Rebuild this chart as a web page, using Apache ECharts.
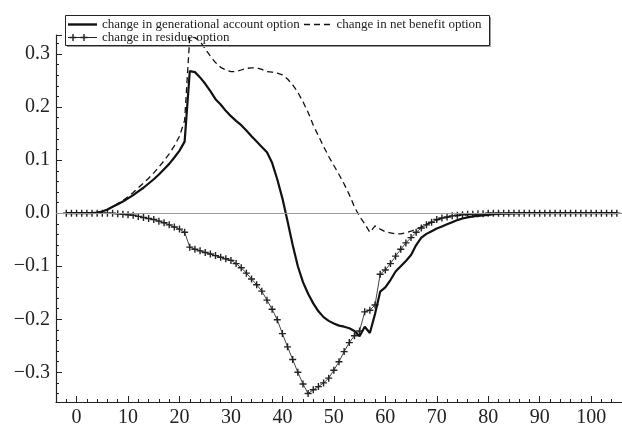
<!DOCTYPE html>
<html>
<head>
<meta charset="utf-8">
<script src="https://cdn.jsdelivr.net/npm/echarts@6/dist/echarts.min.js"></script>
<style>
html,body{margin:0;padding:0;background:#fff;}
#chart{width:622px;height:428px;}
</style>
</head>
<body>
<div id="chart"></div>
<script>
// x values (generation index), -2 .. 105
var xValues = [
  -2,-1,0,1,2,3,4,5,6,7,
  8,9,10,11,12,13,14,15,16,17,
  18,19,20,21,22,23,24,25,26,27,
  28,29,30,31,32,33,34,35,36,37,
  38,39,40,41,42,43,44,45,46,47,
  48,49,50,51,52,53,54,55,56,57,
  58,59,60,61,62,63,64,65,66,67,
  68,69,70,71,72,73,74,75,76,77,
  78,79,80,81,82,83,84,85,86,87,
  88,89,90,91,92,93,94,95,96,97,
  98,99,100,101,102,103,104,105
];

var seriesNames = [
  'change in generational account option',
  'change in net benefit option',
  'change in residue option'
];

var genAccount = [
  0,0,0,0,0,0.0003,0.001,0.003,0.007,0.012,
  0.017,0.022,0.028,0.034,0.041,0.048,0.056,0.064,0.073,0.083,
  0.093,0.105,0.118,0.135,0.268,0.266,0.256,0.244,0.230,0.215,
  0.205,0.193,0.183,0.174,0.166,0.156,0.145,0.135,0.125,0.115,
  0.095,0.064,0.028,-0.015,-0.060,-0.100,-0.130,-0.152,-0.170,-0.185,
  -0.196,-0.203,-0.208,-0.212,-0.214,-0.217,-0.222,-0.232,-0.214,-0.226,
  -0.190,-0.148,-0.140,-0.126,-0.110,-0.100,-0.090,-0.079,-0.060,-0.046,
  -0.039,-0.034,-0.029,-0.025,-0.021,-0.017,-0.013,-0.010,-0.008,-0.006,
  -0.005,-0.004,-0.003,-0.002,-0.0015,-0.001,-0.0008,-0.0005,-0.0003,0,
  0,0,0,0,0,0,0,0,0,0,
  0,0,0,0,0,0,0,0
];

var netBenefit = [
  0,0,0,0,0,0.0003,0.001,0.003,0.007,0.012,
  0.018,0.024,0.031,0.039,0.048,0.057,0.066,0.076,0.087,0.099,
  0.112,0.127,0.145,0.175,0.333,0.331,0.324,0.310,0.296,0.284,
  0.275,0.270,0.267,0.267,0.270,0.273,0.274,0.274,0.271,0.267,
  0.266,0.264,0.261,0.253,0.242,0.228,0.210,0.190,0.166,0.146,
  0.126,0.107,0.090,0.073,0.055,0.035,0.012,-0.006,-0.020,-0.036,
  -0.024,-0.030,-0.035,-0.037,-0.039,-0.039,-0.037,-0.034,-0.030,-0.026,
  -0.021,-0.017,-0.013,-0.010,-0.008,-0.006,-0.005,-0.004,-0.003,-0.002,
  -0.0015,-0.001,-0.0006,-0.0003,0,0,0,0,0,0,
  0,0,0,0,0,0,0,0,0,0,
  0,0,0,0,0,0,0,0
];

var residue = [
  0,0,0,0,0,0,0,0,0,0,
  -0.001,-0.002,-0.003,-0.004,-0.006,-0.008,-0.010,-0.012,-0.015,-0.018,
  -0.022,-0.026,-0.030,-0.036,-0.064,-0.068,-0.071,-0.074,-0.077,-0.080,
  -0.083,-0.086,-0.089,-0.095,-0.103,-0.113,-0.124,-0.135,-0.147,-0.164,
  -0.181,-0.201,-0.227,-0.252,-0.276,-0.300,-0.322,-0.340,-0.333,-0.327,
  -0.320,-0.311,-0.296,-0.280,-0.261,-0.244,-0.231,-0.222,-0.186,-0.183,
  -0.173,-0.115,-0.107,-0.095,-0.081,-0.068,-0.056,-0.046,-0.036,-0.028,
  -0.022,-0.017,-0.012,-0.009,-0.007,-0.005,-0.004,-0.003,-0.002,-0.002,
  -0.001,-0.001,0,0,0,0,0,0,0,0,
  0,0,0,0,0,0,0,0,0,0,
  0,0,0,0,0,0,0,0
];

var xTickLabels = [0,10,20,30,40,50,60,70,80,90,100];
var yTickLabels = [-0.3,-0.2,-0.1,0.0,0.1,0.2,0.3];

function pairs(vals){ return xValues.map(function(x,i){ return [x, vals[i]]; }); }

var X_MIN = -4, X_MAX = 106, Y_MIN = -0.356, Y_MAX = 0.336;
var xMinor = []; for (var t = -2; t <= 106; t += 2) { xMinor.push(t); }
var yMinor = []; for (var k = -17; k <= 16; k++) { yMinor.push(+(k * 0.02).toFixed(2)); }

var FONT = 'Liberation Serif';
var AX = '#222';
var plusPath = 'path://M4,0H6V4H10V6H6V10H4V6H0V4H4Z';
var legendSolidIcon = 'path://M0,0H29V2.4H0Z';
var legendDashIcon = 'path://M0,0H6V1.4H0Z M10,0H16V1.4H10Z M20,0H26V1.4H20Z';
var legendPlusIcon = 'path://M0,3.1H29V3.9H0Z M4.3,0H5.7V2.8H8.5V4.2H5.7V7H4.3V4.2H1.5V2.8H4.3Z M15.3,0H16.7V2.8H19.5V4.2H16.7V7H15.3V4.2H12.5V2.8H15.3Z';
var legendText = {fontFamily: FONT, fontSize: 13, color: AX};

var chart = echarts.init(document.getElementById('chart'), null, {renderer: 'canvas'});
chart.setOption({
  animation: false,
  backgroundColor: '#fff',
  grid: {left: 56, right: 0, top: 35, bottom: 24, containLabel: false},
  xAxis: [{
    type: 'value', min: X_MIN, max: X_MAX, position: 'bottom',
    axisLine: {show: true, onZero: false, lineStyle: {color: AX, width: 1.2}},
    axisTick: {show: true, inside: true, length: 6, customValues: xTickLabels, lineStyle: {color: AX, width: 1}},
    axisLabel: {show: true, customValues: xTickLabels, margin: 6, color: AX, fontFamily: FONT, fontSize: 20},
    splitLine: {show: false}
  }, {
    type: 'value', min: X_MIN, max: X_MAX, position: 'bottom', offset: 0,
    axisLine: {show: false, onZero: false},
    axisTick: {show: true, inside: true, length: 3, customValues: xMinor, lineStyle: {color: AX, width: 1}},
    axisLabel: {show: false},
    splitLine: {show: false}
  }],
  yAxis: [{
    type: 'value', min: Y_MIN, max: Y_MAX, position: 'left',
    axisLine: {show: true, onZero: false, lineStyle: {color: AX, width: 1.2}},
    axisTick: {show: true, inside: true, length: 6, customValues: yTickLabels.concat([Y_MAX]), lineStyle: {color: AX, width: 1}},
    axisLabel: {show: true, customValues: yTickLabels, margin: 6, color: AX, fontFamily: FONT, fontSize: 20,
      formatter: function(v){ return v.toFixed(1).replace('-', '\u2212'); }},
    splitLine: {show: false}
  }, {
    type: 'value', min: Y_MIN, max: Y_MAX, position: 'left', offset: 0,
    axisLine: {show: false, onZero: false},
    axisTick: {show: true, inside: true, length: 3, customValues: yMinor, lineStyle: {color: AX, width: 1}},
    axisLabel: {show: false},
    splitLine: {show: false}
  }],
  legend: [{
    left: 68, top: 18, padding: 0, itemWidth: 29, itemHeight: 2.4, selectedMode: false,
    data: [{name: seriesNames[0], icon: legendSolidIcon}], textStyle: legendText
  }, {
    left: 304, top: 18, padding: 0, itemWidth: 29, itemHeight: 1.4, selectedMode: false,
    data: [{name: seriesNames[1], icon: legendDashIcon}], textStyle: legendText
  }, {
    left: 68, top: 31, padding: 0, itemWidth: 29, itemHeight: 7, selectedMode: false,
    data: [{name: seriesNames[2], icon: legendPlusIcon}], textStyle: legendText
  }],
  graphic: [{
    type: 'rect', z: 100, silent: true,
    shape: {x: 65.5, y: 15.5, width: 424, height: 30},
    style: {fill: 'none', stroke: '#222', lineWidth: 1}
  }, {
    type: 'polyline', z: 99, silent: true,
    shape: {points: [[490.5, 17], [490.5, 46.5], [67, 46.5]]},
    style: {fill: 'none', stroke: '#999', lineWidth: 1}
  }],
  series: [{
    name: seriesNames[2], type: 'line', data: pairs(residue),
    symbol: plusPath, symbolSize: 7, showSymbol: true, showAllSymbol: true,
    itemStyle: {color: '#222'},
    lineStyle: {color: '#444', width: 1},
    z: 2, silent: true,
    markLine: {
      silent: true, symbol: ['none', 'none'], label: {show: false},
      lineStyle: {color: '#999', width: 1, type: 'solid'},
      data: [{yAxis: 0}]
    }
  }, {
    name: seriesNames[0], type: 'line', data: pairs(genAccount),
    symbol: 'none', showSymbol: false,
    itemStyle: {color: '#111'},
    lineStyle: {color: '#111', width: 2.2},
    z: 4, silent: true
  }, {
    name: seriesNames[1], type: 'line', data: pairs(netBenefit),
    symbol: 'none', showSymbol: false,
    itemStyle: {color: '#111'},
    lineStyle: {color: '#111', width: 1.3, type: [6, 4]},
    z: 3, silent: true
  }]
});
</script>
</body>
</html>
